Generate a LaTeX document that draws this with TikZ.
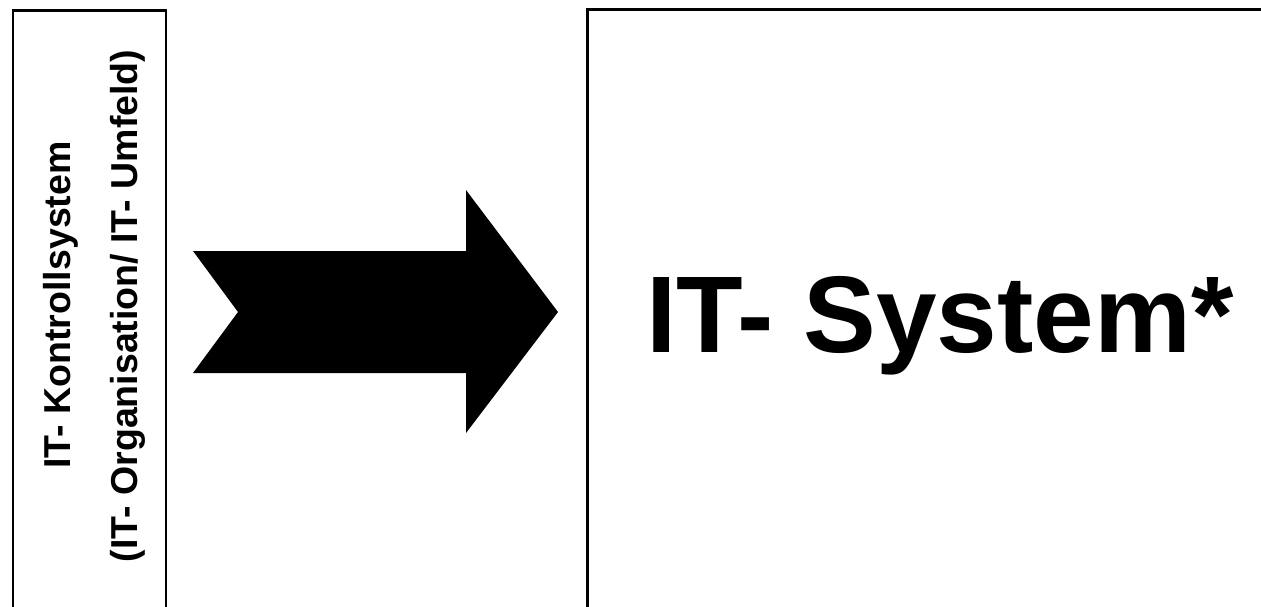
\documentclass[tikz,border=0pt]{standalone}
\usepackage{fontspec}
\setmainfont{Liberation Sans}
\begin{document}
\begin{tikzpicture}[x=1pt,y=-1pt,
  framethin/.style={draw=black,line width=2.3pt},
  framethick/.style={draw=black,line width=3pt},
  sidelabel/.style={rotate=90,anchor=base,inner sep=0pt,font=\fontsize{37.5}{40}\selectfont\bfseries},
  bigtitle/.style={anchor=base,inner sep=0pt,font=\fontsize{109}{120}\selectfont\bfseries},
  bigarrow/.style={fill=black,draw=none}]
\useasboundingbox (0,0) rectangle (1261,606);
\clip (0,0) rectangle (1261,606);
\fill[white] (0,0) rectangle (1261,606);

% left frame: control system, open at the bottom
\coordinate (lbl) at (13.3,620);
\coordinate (ltl) at (13.3,10.5);
\coordinate (ltr) at (166,10.5);
\coordinate (lbr) at (166,620);
\draw[framethin] (lbl) -- (ltl) -- (ltr) -- (lbr);

% right frame: IT system, open at the bottom and right
\coordinate (rbl) at (587.5,620);
\coordinate (rtl) at (587.5,9.8);
\coordinate (rtr) at (1275,9.8);
\draw[framethick] (rbl) -- (rtl) -- (rtr);

% vertical labels
\node[sidelabel] (ctrl) at (70,305) {IT- Kontrollsystem};
\node[sidelabel] (env) at (137,306) {(IT- Organisation/ IT- Umfeld)};

% notched block arrow
\coordinate (a1) at (193,251);
\coordinate (a2) at (466,251);
\coordinate (a3) at (466,190);
\coordinate (a4) at (558,312);
\coordinate (a5) at (466,433);
\coordinate (a6) at (466,373);
\coordinate (a7) at (193,373);
\coordinate (a8) at (238,312);
\path[bigarrow] (a1) -- (a2) -- (a3) -- (a4) -- (a5) -- (a6) -- (a7) -- (a8) -- cycle;

% title
\node[bigtitle] (sys) at (940,352) {IT- System*};
\end{tikzpicture}
\end{document}
